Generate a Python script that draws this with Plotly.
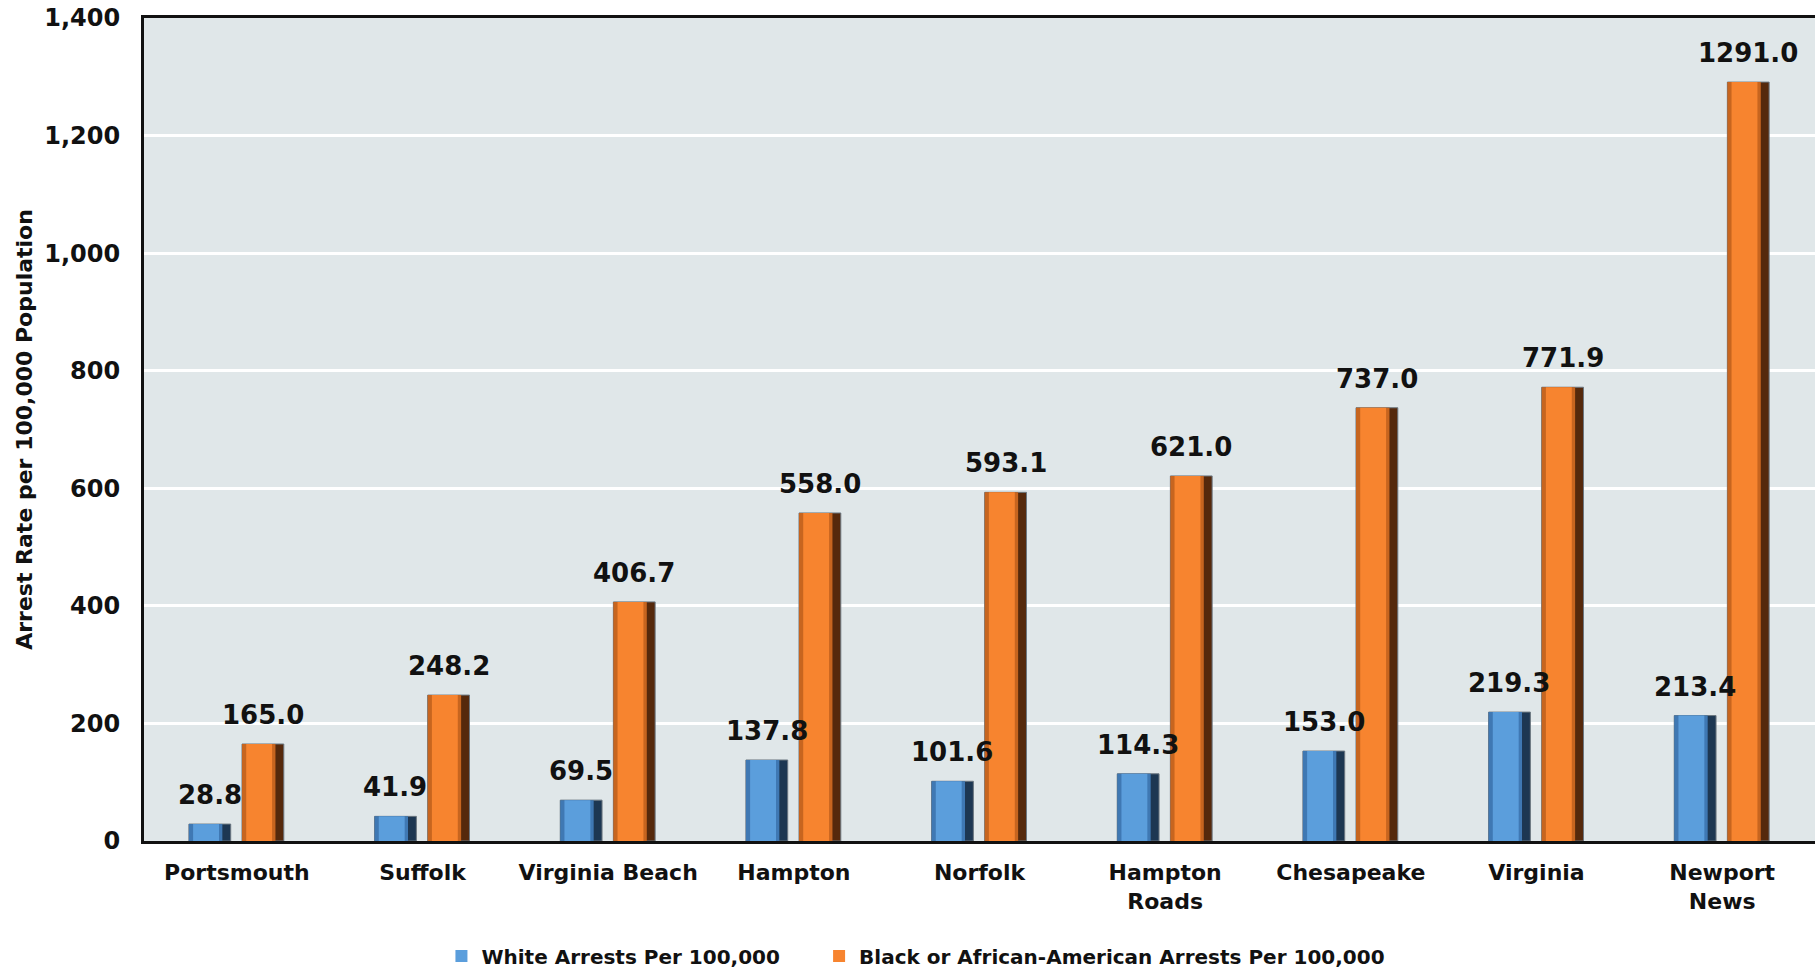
import plotly.graph_objects as go

# Arrest rates per 100,000 population by locality
localities = ["Portsmouth", "Suffolk", "Virginia Beach", "Hampton", "Norfolk",
              "Hampton<br>Roads", "Chesapeake", "Virginia", "Newport<br>News"]
white_rate = [28.8, 41.9, 69.5, 137.8, 101.6, 114.3, 153.0, 219.3, 213.4]
black_rate = [165.0, 248.2, 406.7, 558.0, 593.1, 621.0, 737.0, 771.9, 1291.0]

y_ticks = [0, 200, 400, 600, 800, 1000, 1200, 1400]
y_tick_text = ["0", "200", "400", "600", "800", "1,000", "1,200", "1,400"]

FONT = "'DejaVu Sans', sans-serif"
W = "bold"
BAR_W = 0.225
BLUE_OFF, ORANGE_OFF = -0.258, 0.028

fig = go.Figure()

# name, values, offset, (shadow, edge, face), legend id
series = [
    ("White Arrests Per 100,000", white_rate, BLUE_OFF, "#1d3752", "#3f78b3", "#5b9edc", "legend"),
    ("Black or African-American Arrests Per 100,000", black_rate, ORANGE_OFF, "#55290c", "#c7651f", "#f7842f", "legend2"),
]

for name, vals, off, shadow, edge, face, leg in series:
    # dark body giving the shaded right side
    fig.add_trace(go.Bar(x=localities, y=vals, offset=off, width=BAR_W,
                         marker=dict(color=shadow, line=dict(width=1, color="#6b7780")),
                         showlegend=False, hoverinfo="skip"))
    # mid-tone left bevel
    fig.add_trace(go.Bar(x=localities, y=vals, offset=off, width=BAR_W * 0.8,
                         marker=dict(color=edge, line=dict(width=0)),
                         showlegend=False, hoverinfo="skip"))
    # bright front face
    fig.add_trace(go.Bar(x=localities, y=vals, offset=off + BAR_W * 0.1, width=BAR_W * 0.62,
                         marker=dict(color=face, line=dict(width=0)),
                         name=name, showlegend=True, legend=leg))

# value labels above each bar
annotations = []
for vals, off in ((white_rate, BLUE_OFF), (black_rate, ORANGE_OFF)):
    for cat_i, v in enumerate(vals):
        annotations.append(dict(
            x=cat_i + off + BAR_W / 2, y=v, xref="x", yref="y",
            text=f"{v:.1f}", showarrow=False, yanchor="bottom", yshift=12,
            font=dict(family=FONT, size=26, color="#111111", weight=W),
        ))

legend_style = dict(orientation="h", xanchor="left", y=-0.116, yanchor="top",
                    font=dict(family=FONT, size=20, color="#111111", weight=W),
                    itemwidth=30, itemsizing="constant", bgcolor="rgba(0,0,0,0)")

fig.update_layout(
    width=1815, height=972,
    barmode="overlay",
    paper_bgcolor="white",
    plot_bgcolor="#e0e7e9",
    margin=dict(l=144, r=0, t=18, b=131, autoexpand=False),
    annotations=annotations,
    font=dict(family=FONT, color="#111111", weight=W),
    legend=dict(x=0.178, **legend_style),
    legend2=dict(x=0.404, **legend_style),
    xaxis=dict(
        type="category",
        range=[-0.5, len(localities) - 0.5],
        showline=True, linecolor="#111111", linewidth=3, mirror=True,
        showgrid=False, ticks="", ticklen=0, ticklabelstandoff=10,
        tickfont=dict(family=FONT, size=22, color="#111111", weight=W),
    ),
    yaxis=dict(
        range=[0, 1400],
        tickvals=y_ticks, ticktext=y_tick_text,
        showline=True, linecolor="#111111", linewidth=3,
        showgrid=True, gridcolor="white", gridwidth=2.5,
        zeroline=False, ticks="", ticklabelstandoff=16,
        tickfont=dict(family=FONT, size=24, color="#111111", weight=W),
        title=dict(text="Arrest Rate per 100,000 Population", standoff=6,
                   font=dict(family=FONT, size=22, color="#111111", weight=W)),
    ),
)

fig.write_html("out.html")
